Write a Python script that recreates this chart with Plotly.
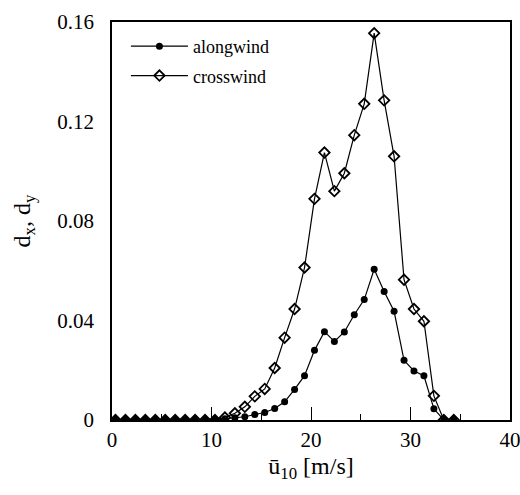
import plotly.graph_objects as go

# wind speed bins [m/s]
u10 = [0.35 + k for k in range(35)]

alongwind = [0, 0, 0, 0, 0, 0, 0, 0, 0, 0, 0,
             0.0005, 0.0009, 0.0013, 0.0022, 0.0030, 0.0046, 0.0073, 0.0123, 0.0178,
             0.0280, 0.0355, 0.0316, 0.0354, 0.0423, 0.0484, 0.0606, 0.0517, 0.0437,
             0.0240, 0.0197, 0.0178, 0.0045, 0, 0]

crosswind = [0, 0, 0, 0, 0, 0, 0, 0, 0, 0, 0,
             0.0010, 0.0027, 0.0053, 0.0095, 0.0125, 0.0209, 0.0331, 0.0446, 0.0613,
             0.0889, 0.1075, 0.0920, 0.0992, 0.1145, 0.1271, 0.1555, 0.1285, 0.1060,
             0.0564, 0.0446, 0.0397, 0.0097, 0, 0]

x_ticks = [0, 10, 20, 30, 40]
y_ticks = [0, 0.04, 0.08, 0.12, 0.16]
y_tick_labels = ["0", "0.04", "0.08", "0.12", "0.16"]

FONT = "Liberation Serif, Times New Roman, serif"

fig = go.Figure()
fig.add_trace(go.Scatter(
    x=u10, y=alongwind, name="alongwind", mode="lines+markers",
    legendgroup="a",
    line=dict(color="black", width=1.2),
    marker=dict(symbol="circle", size=7, color="black"),
))
fig.add_trace(go.Scatter(
    x=u10, y=crosswind, name="crosswind", mode="lines+markers",
    legendgroup="b",
    line=dict(color="black", width=1.2),
    marker=dict(symbol="diamond-open", size=8, color="black",
                line=dict(color="black", width=1.8)),
))

fig.update_layout(
    width=520, height=495,
    margin=dict(l=112, r=10, t=22, b=75),
    paper_bgcolor="white", plot_bgcolor="white",
    font=dict(family=FONT, color="black", size=21),
    showlegend=True,
    legend=dict(x=0.035, y=0.985, xanchor="left", yanchor="top",
                bgcolor="rgba(0,0,0,0)", font=dict(size=18, family=FONT),
                traceorder="grouped", tracegroupgap=3, itemwidth=57),
    # overlay axis that carries the inside tick marks of the y axis
    yaxis2=dict(
        overlaying="y", anchor="x", side="left", range=[0, 0.16], tickvals=y_ticks,
        showticklabels=False, showgrid=False, zeroline=False, showline=False,
        ticks="inside", ticklen=13, tickwidth=1.2, tickcolor="black",
        minor=dict(ticks="inside", ticklen=6, dtick=0.02, tickwidth=1.2,
                   tickcolor="black", showgrid=False),
    ),
)
fig.update_xaxes(
    range=[0, 40], tickvals=x_ticks, showgrid=False, zeroline=False,
    showline=True, linecolor="black", linewidth=1.5, mirror=True,
    ticks="inside", ticklen=13, tickwidth=1.2, tickcolor="black",
    minor=dict(ticks="inside", ticklen=6, dtick=5, tickwidth=1.2, tickcolor="black", showgrid=False),
    tickfont=dict(size=21, family=FONT),
    ticklabeloverflow="allow",
    automargin=False,
    title=dict(text="ū<sub>10</sub> [m/s]", font=dict(size=24, family=FONT), standoff=6),
)
fig.update_layout(yaxis=dict(
    range=[0, 0.16], tickvals=y_ticks, ticktext=y_tick_labels, showgrid=False, zeroline=False,
    showline=True, linecolor="black", linewidth=1.5, mirror=True,
    # transparent outside ticks only space the labels away from the axis
    ticks="outside", ticklen=12, tickwidth=1, tickcolor="rgba(0,0,0,0)",
    tickfont=dict(size=21, family=FONT),
    ticklabeloverflow="allow",
    automargin=False,
    title=dict(text="d<sub>x</sub>, d<sub>y</sub>", font=dict(size=24, family=FONT), standoff=20),
))

fig.write_html("out.html", config={"displayModeBar": False},
               post_script="document.body.style.margin='0';")
